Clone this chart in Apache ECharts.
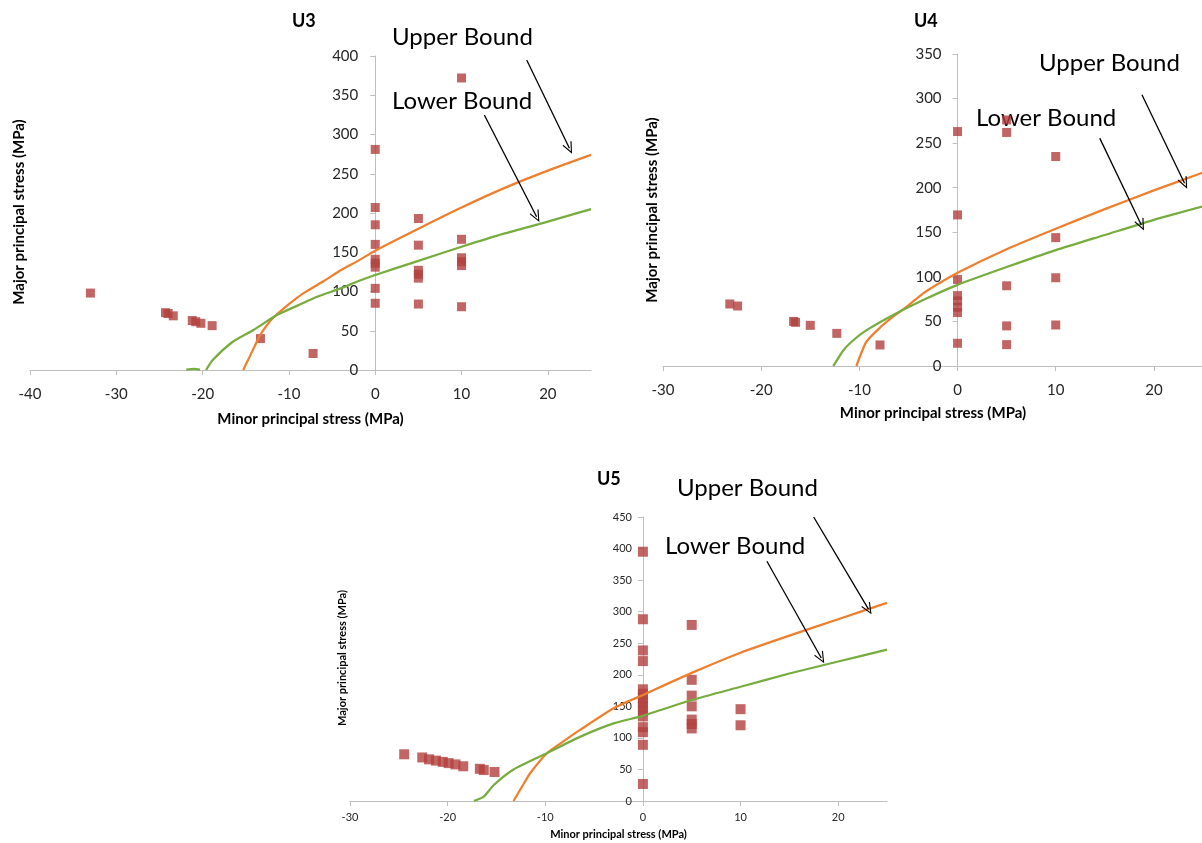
<!DOCTYPE html>
<html>
<head>
<meta charset="utf-8">
<title>Principal stress U3 U4 U5</title>
<script src="https://cdn.jsdelivr.net/npm/echarts@6/dist/echarts.min.js"></script>
<style>
    html, body { margin: 0; padding: 0; background: #fff; }
    #chart { width: 1202px; height: 843px; }
</style>
</head>
<body>
<div id="chart"></div>
<script>
    // ---- U3 ----
    var u3Points = [
        [-33, 98], [-24.3, 73], [-24.0, 72], [-23.4, 69], [-21.2, 63], [-20.8, 61.5], [-20.2, 59.5], [-18.9, 56.5],
        [-13.3, 40], [-7.2, 21],
        [0, 281], [0, 207], [0, 185], [0, 160], [0, 141], [0, 136], [0, 131], [0, 104], [0, 85],
        [5, 193], [5, 159], [5, 127], [5, 122], [5, 117], [5, 84],
        [10, 372], [10, 166.5], [10, 143], [10, 138], [10, 133], [10, 80.6]
    ];
    var u3Upper = [
        [-15.3, 0], [-14.5, 18], [-13.3, 45], [-12.2, 62], [-11.4, 71], [-10, 84], [-8.3, 98], [-6, 113],
        [-4, 127], [-2, 139], [0, 152], [5, 180], [10, 207], [15, 232], [20, 254], [25, 274]
    ];
    // small piece lying on the axis before the curve starts
    var u3LowerStub = [[-21.9, 0.5], [-21, 1.5], [-20.3, 0.5]];
    var u3Lower = [
        [-19.6, 0], [-18.8, 13], [-16.5, 36], [-14.1, 51], [-11.4, 70], [-9, 82], [-6.8, 93], [-4, 104],
        [-2, 113], [0, 121], [5, 139], [10, 157], [15, 174], [20, 189], [25, 205]
    ];
    var u3Arrows = { upper: [[17.55, 395], [22.5, 282.4]], lower: [[12.64, 324.8], [18.7, 195.3]] };

    // ---- U4 ----
    var u4Points = [
        [-23.2, 69.6], [-22.4, 67.3], [-16.7, 50], [-16.5, 49], [-15.0, 45.6], [-12.3, 36.6], [-7.9, 23.6],
        [0, 263], [0, 169.5], [0, 97], [0, 79], [0, 73], [0, 66], [0, 60], [0, 25.5],
        [5, 276], [5, 262], [5, 90], [5, 45], [5, 24],
        [10, 235], [10, 144], [10, 99], [10, 46]
    ];
    var u4Upper = [
        [-10.3, 0], [-9.3, 27], [-8, 42], [-6.6, 55], [-5, 68], [-3.5, 81.5], [-2, 92], [0, 104.7],
        [5, 131], [10, 154], [15, 176], [20, 197], [25, 217]
    ];
    var u4Lower = [
        [-12.65, 0], [-11.6, 18], [-10.5, 30], [-9.3, 40], [-6.6, 57], [-3.5, 74], [0, 91],
        [5, 111], [10, 130], [15, 147], [20, 164], [25, 179]
    ];
    var u4Arrows = { upper: [[18.78, 304.2], [23.12, 205]], lower: [[14.48, 255.6], [18.72, 158.2]] };

    // ---- U5 ----
    var u5Points = [
        [-24.45, 74], [-22.6, 69], [-21.9, 66], [-21.2, 64], [-20.5, 62], [-19.9, 60], [-19.2, 58], [-18.4, 55],
        [-16.7, 51], [-16.3, 49], [-15.2, 46],
        [0, 395], [0, 288], [0, 238.6], [0, 221.7], [0, 177], [0, 170], [0, 163], [0, 156], [0, 149], [0, 142],
        [0, 134], [0, 117], [0, 109], [0, 89], [0, 27],
        [5, 279], [5, 192], [5, 167], [5, 150], [5, 129], [5, 122], [5, 115],
        [10, 145.5], [10, 120]
    ];
    var u5Upper = [
        [-13.25, 0], [-12.3, 25], [-11.55, 44], [-9.8, 76], [-8, 96], [-6.4, 113], [-3, 147], [0, 168],
        [5, 203], [10, 235], [15, 262], [20, 288], [25, 314]
    ];
    var u5Lower = [
        [-17.3, 0], [-16.3, 7], [-15.3, 25], [-13.25, 50], [-9.8, 76], [-6.4, 102], [-3, 123], [0, 135],
        [5, 160], [10, 181], [15, 202], [20, 221], [25, 240]
    ];
    // the upper arrow starts just above the axis top, clamped to 450
    var u5Arrows = { upper: [[17.49, 450], [23.1, 304]], lower: [[12.7, 379.8], [18.27, 226.5]] };

    var FONT = 'Lato, "Open Sans", sans-serif';
    var AXIS_COLOR = '#BFBFBF';
    var ORANGE = '#EE7F2D';
    var GREEN = '#77AC3E';
    var ARROW = 'path://M5,0 L10,11 L9,11.6 L5,2.6 L1,11.6 L0,11 Z';
    var X_MAX = 25;

    var grids = [
        { left: 30, top: 56, width: 561, height: 314 },
        { left: 663, top: 54, width: 540, height: 312 },
        { left: 350, top: 517, width: 537, height: 284 }
    ];
    var xMins = [-40, -30, -30];

    function xAxisOf(idx, size, labelMargin, nameGap) {
        return {
            gridIndex: idx, type: 'value', min: xMins[idx], max: X_MAX, interval: 10,
            name: 'Minor principal stress (MPa)', nameLocation: 'middle', nameGap: nameGap,
            nameTextStyle: { fontFamily: FONT, fontWeight: 'bold', fontSize: size, color: '#000' },
            axisLine: { onZero: false, lineStyle: { color: AXIS_COLOR, width: 1 } },
            axisTick: { show: true, length: 5, lineStyle: { color: AXIS_COLOR } },
            axisLabel: { fontFamily: FONT, fontSize: size, color: '#262626', margin: labelMargin, showMaxLabel: false },
            splitLine: { show: false }
        };
    }

    // the y axis crosses the x axis at 0, so shift it right from the grid's left edge
    function yAxisOf(idx, max, size, labelMargin) {
        var g = grids[idx];
        var shift = g.width * (0 - xMins[idx]) / (X_MAX - xMins[idx]);
        return {
            gridIndex: idx, type: 'value', min: 0, max: max, interval: 50,
            position: 'left', offset: -shift,
            axisLine: { onZero: false, lineStyle: { color: AXIS_COLOR, width: 1 } },
            axisTick: { show: true, length: 5, lineStyle: { color: AXIS_COLOR } },
            axisLabel: { fontFamily: FONT, fontSize: size, color: '#262626', margin: labelMargin },
            splitLine: { show: false }
        };
    }

    function arrowLine(pair) {
        return {
            silent: true,
            symbol: ['none', ARROW],
            symbolSize: [10, 12],
            label: { show: false },
            lineStyle: { color: '#000', width: 1.3, type: 'solid' },
            emphasis: { disabled: true },
            animation: false,
            data: [[{ coord: pair[0] }, { coord: pair[1] }]]
        };
    }

    function curve(idx, data, color, marks) {
        var s = {
            type: 'line', xAxisIndex: idx, yAxisIndex: idx,
            showSymbol: false, smooth: 0.2, clip: false, silent: true,
            lineStyle: { color: color, width: 2.25 },
            data: data
        };
        if (marks) s.markLine = arrowLine(marks);
        return s;
    }

    function panelSeries(idx, points, upper, lower, arrows, symSize) {
        return [
            {
                type: 'scatter', xAxisIndex: idx, yAxisIndex: idx,
                symbol: 'rect', symbolSize: symSize,
                itemStyle: { color: '#B2403D' },
                data: points
            },
            curve(idx, upper, ORANGE, arrows.upper),
            curve(idx, lower, GREEN, arrows.lower)
        ];
    }

    function label(text, x, y, size) {
        return {
            type: 'text', x: x, y: y, silent: true,
            style: { text: text, fontFamily: FONT, fontSize: size, fill: '#000', align: 'left', verticalAlign: 'middle' }
        };
    }

    // rotated y axis title, placed by its centre
    function yName(x, y, size) {
        return {
            type: 'text', x: x, y: y, rotation: Math.PI / 2, silent: true,
            style: {
                text: 'Major principal stress (MPa)', fontFamily: FONT, fontWeight: 'bold', fontSize: size,
                fill: '#000', align: 'center', verticalAlign: 'middle'
            }
        };
    }

    var chart = echarts.init(document.getElementById('chart'));

    chart.setOption({
        animation: false,
        backgroundColor: '#fff',
        title: [
            { text: 'U3', left: 292, top: 12, padding: 0, textStyle: { fontFamily: FONT, fontWeight: 'bold', fontSize: 18, color: '#000' } },
            { text: 'U4', left: 914, top: 12, padding: 0, textStyle: { fontFamily: FONT, fontWeight: 'bold', fontSize: 18, color: '#000' } },
            { text: 'U5', left: 597, top: 470, padding: 0, textStyle: { fontFamily: FONT, fontWeight: 'bold', fontSize: 18, color: '#000' } }
        ],
        grid: grids.map(function (g) {
            return { left: g.left, top: g.top, width: g.width, height: g.height, outerBoundsMode: 'none' };
        }),
        xAxis: [
            xAxisOf(0, 15, 17, 42),
            xAxisOf(1, 15, 17, 40),
            xAxisOf(2, 11, 11, 28)
        ],
        yAxis: [
            yAxisOf(0, 400, 15, 17),
            yAxisOf(1, 350, 15, 16),
            yAxisOf(2, 450, 11, 11)
        ],
        series: []
            .concat(panelSeries(0, u3Points, u3Upper, u3Lower, u3Arrows, 9))
            .concat([curve(0, u3LowerStub, GREEN, null)])
            .concat(panelSeries(1, u4Points, u4Upper, u4Lower, u4Arrows, 9))
            .concat(panelSeries(2, u5Points, u5Upper, u5Lower, u5Arrows, 10)),
        graphic: [
            yName(19, 212, 15),
            yName(652, 210, 15),
            yName(342, 658, 11),
            label('Upper Bound', 392, 37, 24),
            label('Lower Bound', 392, 101, 24),
            label('Upper Bound', 1039, 63, 24),
            label('Lower Bound', 976, 118, 24),
            label('Upper Bound', 677, 488, 24),
            label('Lower Bound', 665, 546, 24)
        ]
    });
</script>
</body>
</html>
